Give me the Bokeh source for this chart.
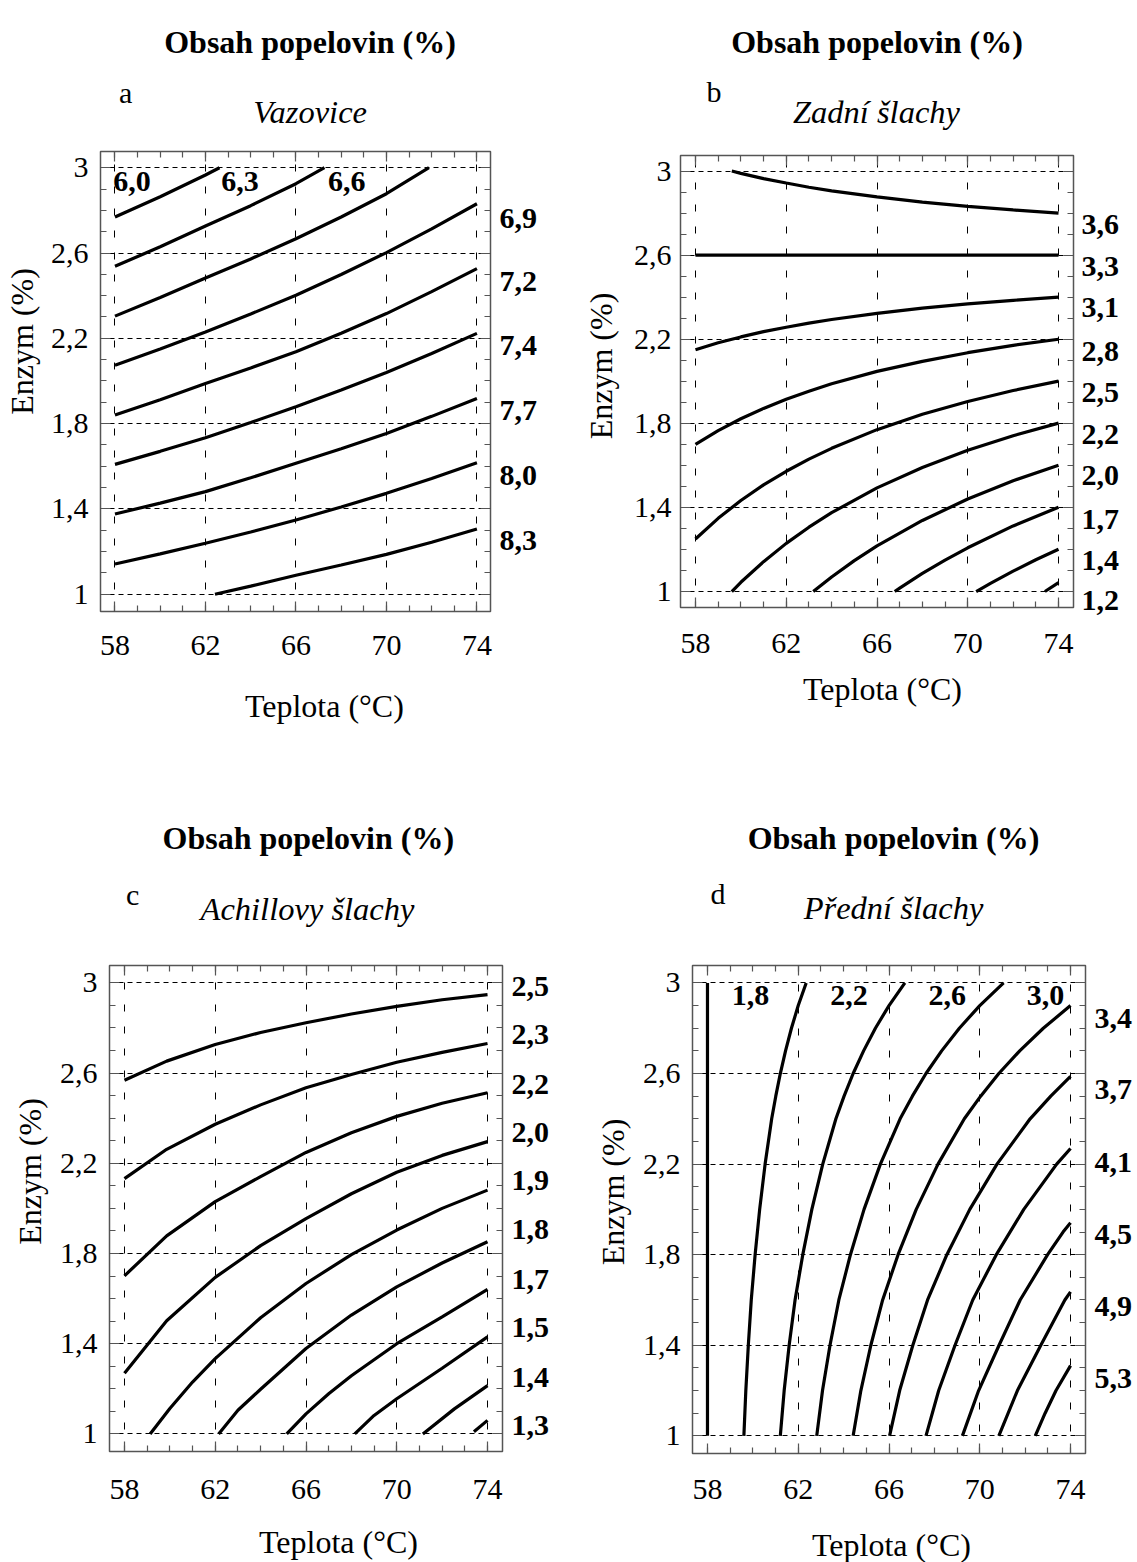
import math
from bokeh.plotting import figure
from bokeh.models import Range1d, FixedTicker, LinearAxis, CustomJSTickFormatter, ColumnDataSource
from bokeh.core.properties import value
from bokeh.layouts import column, row
from bokeh.embed import file_html
from bokeh.resources import INLINE

SERIF = "Liberation Serif"
FRAME = "#555555"

# ---------------- data ----------------
title_text = "Obsah popelovin (%)"
x_label = "Teplota (°C)"
y_label = "Enzym (%)"
x_ticks = [58, 62, 66, 70, 74]
x_tick_labels = ["58", "62", "66", "70", "74"]
y_ticks = [1.0, 1.4, 1.8, 2.2, 2.6, 3.0]
y_tick_labels = ["1", "1,4", "1,8", "2,2", "2,6", "3"]

# panel a - Vazovice
a_curves_x = [
    [58, 60, 62, 62.62],
    [58, 60, 62, 64, 66, 67.26],
    [58, 60, 62, 64, 66, 68, 70, 71.88],
    [58, 60, 62, 64, 66, 68, 70, 72, 74],
    [58, 60, 62, 64, 66, 68, 70, 72, 74],
    [58, 60, 62, 64, 66, 68, 70, 72, 74],
    [58, 60, 62, 64, 66, 68, 70, 72, 74],
    [58, 60, 62, 64, 66, 68, 70, 72, 74],
    [62.42, 64, 66, 68, 70, 72, 74],
]
a_curves_y = [
    [2.769, 2.864, 2.966, 3.0],
    [2.538, 2.629, 2.727, 2.822, 2.925, 3.0],
    [2.304, 2.391, 2.483, 2.572, 2.667, 2.769, 2.878, 3.0],
    [2.074, 2.150, 2.230, 2.314, 2.402, 2.499, 2.602, 2.713, 2.831],
    [1.840, 1.912, 1.988, 2.061, 2.137, 2.224, 2.316, 2.419, 2.527],
    [1.609, 1.670, 1.734, 1.805, 1.879, 1.958, 2.040, 2.129, 2.223],
    [1.376, 1.427, 1.481, 1.546, 1.614, 1.682, 1.754, 1.834, 1.918],
    [1.142, 1.189, 1.239, 1.292, 1.348, 1.409, 1.473, 1.543, 1.617],
    [1.0, 1.038, 1.089, 1.137, 1.187, 1.244, 1.306],
]
a_top_labels = ["6,0", "6,3", "6,6"]
a_right_labels = ["6,9", "7,2", "7,4", "7,7", "8,0", "8,3"]
a_right_pos = [2.761, 2.465, 2.168, 1.863, 1.559, 1.254]

# panel b - Zadní šlachy
bx_full = [58, 59, 60, 61, 62, 63, 64, 66, 68, 70, 72, 74]
b_curves_x = [
    [59.6, 60, 61, 62, 63, 64, 66, 68, 70, 72, 74],
    [58, 74],
    bx_full,
    bx_full,
    bx_full,
    [59.6, 60, 61, 62, 63, 64, 66, 68, 70, 72, 74],
    [63.19, 64, 65, 66, 68, 70, 72, 74],
    [66.78, 67, 68, 69, 70, 72, 74],
    [70.37, 71, 72, 73, 74],
    [73.4, 74],
]
b_curves_y = [
    [3.0, 2.989, 2.964, 2.943, 2.923, 2.906, 2.877, 2.852, 2.832, 2.815, 2.800],
    [2.6, 2.6],
    [2.150, 2.183, 2.211, 2.236, 2.257, 2.277, 2.294, 2.323, 2.348, 2.368, 2.385, 2.400],
    [1.700, 1.765, 1.822, 1.871, 1.915, 1.953, 1.988, 2.047, 2.095, 2.136, 2.171, 2.200],
    [1.250, 1.348, 1.433, 1.507, 1.572, 1.630, 1.681, 1.770, 1.843, 1.904, 1.956, 2.001],
    [1.0, 1.044, 1.142, 1.229, 1.306, 1.375, 1.493, 1.590, 1.672, 1.741, 1.801],
    [1.0, 1.069, 1.147, 1.217, 1.338, 1.440, 1.527, 1.601],
    [1.0, 1.016, 1.086, 1.149, 1.208, 1.312, 1.401],
    [1.0, 1.039, 1.097, 1.151, 1.201],
    [1.0, 1.042],
]
b_right_labels = ["3,6", "3,3", "3,1", "2,8", "2,5", "2,2", "2,0", "1,7", "1,4", "1,2"]
b_right_pos = [2.746, 2.548, 2.350, 2.144, 1.946, 1.748, 1.550, 1.344, 1.146, 0.956]

# panel c - Achillovy šlachy
c_curves_x = [
    [58, 59.86, 62, 64, 66, 68, 70, 72, 74],
    [58, 59.86, 62, 64, 66, 68, 70, 72, 74],
    [58, 59.86, 62, 64, 66, 68, 70, 72, 74],
    [58, 59.86, 62, 64, 66, 68, 70, 72, 74],
    [59.13, 60, 61, 62, 64, 66, 68, 70, 72, 74],
    [62.15, 63, 64, 66, 68, 70, 72, 74],
    [65.15, 66, 67, 68, 70, 72, 74],
    [68.15, 69, 70, 72, 74],
    [71.15, 72.54, 74],
    [73.4, 74],
]
c_curves_y = [
    [2.568, 2.653, 2.727, 2.780, 2.823, 2.862, 2.896, 2.925, 2.948],
    [2.132, 2.262, 2.373, 2.459, 2.535, 2.594, 2.648, 2.692, 2.731],
    [1.701, 1.878, 2.030, 2.141, 2.248, 2.335, 2.408, 2.466, 2.513],
    [1.269, 1.502, 1.694, 1.835, 1.955, 2.065, 2.160, 2.235, 2.296],
    [1.0, 1.113, 1.230, 1.334, 1.515, 1.667, 1.795, 1.904, 2.0, 2.081],
    [1.0, 1.105, 1.198, 1.379, 1.527, 1.652, 1.758, 1.852],
    [1.0, 1.089, 1.178, 1.258, 1.400, 1.519, 1.641],
    [1.0, 1.082, 1.156, 1.291, 1.430],
    [1.0, 1.111, 1.214],
    [1.01, 1.06],
]
c_right_labels = ["2,5", "2,3", "2,2", "2,0", "1,9", "1,8", "1,7", "1,5", "1,4", "1,3"]
c_right_pos = [2.985, 2.771, 2.550, 2.336, 2.122, 1.907, 1.686, 1.472, 1.251, 1.037]

# panel d - Přední šlachy
dy_full = [1.0, 1.2, 1.4, 1.6, 1.8, 2.0, 2.2, 2.4, 2.5, 2.6, 2.7, 2.8, 2.9, 3.0]
d_curves_x = [
    [58, 58],
    [59.605, 59.69, 59.80, 59.93, 60.10, 60.30, 60.54, 60.83, 61.01, 61.21, 61.44, 61.70, 62.00, 62.35],
    [61.21, 61.38, 61.60, 61.86, 62.20, 62.60, 63.08, 63.66, 64.02, 64.42, 64.88, 65.40, 66.00, 66.70],
    [62.815, 63.07, 63.40, 63.79, 64.30, 64.90, 65.62, 66.49, 67.03, 67.63, 68.32, 69.10, 70.00, 71.05],
    [64.42, 64.76, 65.20, 65.72, 66.40, 67.20, 68.16, 69.32, 70.04, 70.84, 71.76, 72.80, 74.0],
    [66.025, 66.47, 67.05, 67.70, 68.55, 69.56, 70.76, 72.22, 73.13, 74.0],
    [67.63, 68.19, 68.91, 69.69, 70.73, 71.94, 73.39, 74.0],
    [69.235, 69.95, 70.85, 71.78, 72.99, 73.67, 74.0],
    [70.84, 71.66, 72.69, 73.75, 74.0],
    [72.445, 72.88, 73.36, 74.0],
]
d_curves_y = [
    [1.0, 3.0],
    dy_full,
    dy_full,
    dy_full,
    [1.0, 1.2, 1.4, 1.6, 1.8, 2.0, 2.2, 2.4, 2.5, 2.6, 2.7, 2.8, 2.9],
    [1.0, 1.2, 1.4, 1.6, 1.8, 2.0, 2.2, 2.4, 2.5, 2.587],
    [1.0, 1.2, 1.4, 1.6, 1.8, 2.0, 2.2, 2.269],
    [1.0, 1.2, 1.4, 1.6, 1.8, 1.9, 1.941],
    [1.0, 1.2, 1.4, 1.6, 1.636],
    [1.0, 1.1, 1.2, 1.31],
]
d_top_labels = ["1,8", "2,2", "2,6", "3,0"]
d_right_labels = ["3,4", "3,7", "4,1", "4,5", "4,9", "5,3"]
d_right_pos = [2.841, 2.528, 2.208, 1.888, 1.571, 1.255]

# ---------------- layout (page pixels) ----------------
XR = (57.34, 74.66)
YR = (0.922, 3.077)
minor_x = [58 + i for i in range(17)]
minor_y = [round(1.0 + 0.1 * i, 2) for i in range(21)]
HEADER_H = 130
MAIN_BOTTOM = 60


def px2data(g, px, py):
    x0, x1 = g["xr"]
    y0, y1 = g["yr"]
    return (x0 + (px - g["fl"]) / g["fw"] * (x1 - x0),
            y1 - (py - g["ft"]) / g["fh"] * (y1 - y0))


def frame_axis(ax, major, minor):
    ax.ticker = FixedTicker(ticks=major, minor_ticks=minor)
    ax.axis_line_color = None
    ax.major_tick_in = 10
    ax.major_tick_out = 0
    ax.minor_tick_in = 6
    ax.minor_tick_out = 0
    ax.major_tick_line_color = FRAME
    ax.minor_tick_line_color = FRAME
    ax.major_tick_line_width = 1.2
    ax.minor_tick_line_width = 1.2


def text_fig(g, H, oy, items):
    # frames in a column are aligned with the main plot frame, so use page x coords
    f = figure(width=g["W"], height=H, x_range=Range1d(g["fl"], g["fl"] + g["fw"]),
               y_range=Range1d(H, 0),
               output_backend="svg", toolbar_location=None, min_border=0,
               x_axis_location=None, y_axis_location=None)
    f.grid.visible = False
    f.outline_line_color = None
    f.background_fill_color = "white"
    f.border_fill_color = "white"
    for (px, py, txt, size, style, align) in items:
        f.text(x=[px], y=[py - oy], text=[txt], text_font=value(SERIF),
               text_font_size=f"{size}px", text_font_style=style, text_align=align,
               text_baseline="alphabetic", text_color="black")
    return f


def make_panel(g, curves_x, curves_y, letter, subtitle, right_labels, right_pos,
               top_labels=None, top_px=None, top_py=None):
    W, H = g["W"], g["H"]
    main_top = g["oy"] + HEADER_H
    mt = g["ft"] - main_top
    ml = g["fl"] - g["ox"]
    main_h = mt + g["fh"] + MAIN_BOTTOM
    footer_h = H - HEADER_H - main_h

    p = figure(width=W, height=main_h, x_range=Range1d(*g["xr"]), y_range=Range1d(*g["yr"]),
               output_backend="svg", toolbar_location=None,
               min_border_left=ml, min_border_top=mt,
               min_border_right=W - ml - g["fw"], min_border_bottom=MAIN_BOTTOM)
    p.background_fill_color = "white"
    p.border_fill_color = "white"
    p.outline_line_color = FRAME
    p.outline_line_width = 1.5

    # grid
    p.xgrid.ticker = FixedTicker(ticks=x_ticks)
    p.ygrid.ticker = FixedTicker(ticks=y_ticks)
    p.xgrid.grid_line_color = "black"
    p.ygrid.grid_line_color = "black"
    p.xgrid.grid_line_width = 1
    p.ygrid.grid_line_width = 1
    p.xgrid.grid_line_dash = "7 15"
    p.ygrid.grid_line_dash = "5 4"

    # bottom axis
    xa = p.xaxis[0]
    frame_axis(xa, x_ticks, minor_x)
    xa.major_label_overrides = dict(zip(x_ticks, x_tick_labels))
    xa.major_label_text_font = SERIF
    xa.major_label_text_font_size = "30px"
    xa.major_label_text_color = "black"
    xa.major_label_standoff = g["xstand"]

    # left axis
    ya = p.yaxis[0]
    frame_axis(ya, y_ticks, minor_y)
    ya.major_label_overrides = dict(zip(y_ticks, y_tick_labels))
    ya.major_label_text_font = SERIF
    ya.major_label_text_font_size = "30px"
    ya.major_label_text_color = "black"
    ya.major_label_standoff = g["ystand"]

    # y axis title, placed at its own height on an outer left axis
    _, ylab_y = px2data(g, g["fl"], g["ylab"])
    yl = LinearAxis(ticker=FixedTicker(ticks=[ylab_y], minor_ticks=[]),
                    major_label_overrides={ylab_y: y_label})
    yl.axis_line_color = None
    yl.major_tick_line_color = None
    yl.minor_tick_line_color = None
    yl.major_tick_in = 0
    yl.major_tick_out = 0
    yl.major_label_orientation = "vertical"
    yl.major_label_standoff = g["ylabstand"]
    yl.major_label_text_font = SERIF
    yl.major_label_text_font_size = "32px"
    yl.major_label_text_color = "black"
    p.add_layout(yl, "left")

    blank = CustomJSTickFormatter(code="return ''")
    top = LinearAxis(formatter=blank, major_label_standoff=0)
    frame_axis(top, x_ticks, minor_x)
    p.add_layout(top, "above")
    rt = LinearAxis(formatter=blank, major_label_standoff=0)
    frame_axis(rt, y_ticks, minor_y)
    p.add_layout(rt, "right")

    # contour value labels on the right
    rl = LinearAxis(ticker=FixedTicker(ticks=right_pos, minor_ticks=[]),
                    major_label_overrides=dict(zip(right_pos, right_labels)))
    rl.axis_line_color = None
    rl.major_tick_line_color = None
    rl.minor_tick_line_color = None
    rl.major_tick_in = 0
    rl.major_tick_out = 0
    rl.major_label_standoff = g["rstand"]
    rl.major_label_text_font = SERIF
    rl.major_label_text_font_style = "bold"
    rl.major_label_text_font_size = "30px"
    rl.major_label_text_color = "black"
    p.add_layout(rl, "right")

    # contour lines
    for cx, cy in zip(curves_x, curves_y):
        p.line(cx, cy, line_color="black", line_width=3.2)

    # contour labels inside the frame (top)
    if top_labels:
        tx, ty = [], []
        for px in top_px:
            x, y = px2data(g, px, top_py)
            tx.append(x)
            ty.append(y)
        src = ColumnDataSource(dict(x=tx, y=ty, t=top_labels))
        p.text(x="x", y="y", text="t", source=src, text_font=value(SERIF),
               text_font_style="bold", text_font_size="30px", text_align="left",
               text_baseline="middle", text_color="black")

    header = text_fig(g, HEADER_H, g["oy"], [
        (g["title"][0], g["title"][1], title_text, 32, "bold", "center"),
        (g["letter"][0], g["letter"][1], letter, 30, "normal", "left"),
        (g["sub"][0], g["sub"][1], subtitle, 32.5, "italic", "center"),
    ])
    footer = text_fig(g, footer_h, main_top + main_h, [
        (g["xlab"][0], g["xlab"][1], x_label, 32, "normal", "center"),
    ])
    return column(header, p, footer)


GA = dict(ox=0, oy=0, W=560, H=808, fl=98, ft=151, fw=392, fh=460, xr=(57.36, 74.6), yr=(0.919, 3.076),
          xstand=24, ystand=12, rstand=9, ylabstand=8, ylab=341,
          title=(308.6, 41.7), letter=(116.7, 91.7), sub=(308.7, 111), xlab=(323, 705))
GB = dict(ox=560, oy=0, W=577, H=808, fl=680, ft=155, fw=393, fh=452, xr=XR, yr=(0.924, 3.074),
          xstand=26, ystand=9, rstand=8, ylabstand=12, ylab=365.5,
          title=(876.5, 41.7), letter=(706, 90.7), sub=(876, 111), xlab=(882, 688))
GC = dict(ox=0, oy=808, W=560, H=754, fl=109, ft=965, fw=393, fh=486, xr=XR, yr=YR,
          xstand=28, ystand=12, rstand=9, ylabstand=9, ylab=1171,
          title=(307.8, 837), letter=(125.6, 894), sub=(307, 908.3), xlab=(338, 1541.7))
GD = dict(ox=560, oy=808, W=577, H=754, fl=692, ft=965, fw=393, fh=488, xr=XR, yr=YR,
          xstand=26, ystand=12, rstand=9, ylabstand=9, ylab=1191.5,
          title=(893, 837), letter=(710, 893), sub=(893, 907), xlab=(891, 1544))

pa = make_panel(GA, a_curves_x, a_curves_y, "a", "Vazovice", a_right_labels, a_right_pos,
                a_top_labels, [110.7, 219.3, 326.7], 181.3)
pb = make_panel(GB, b_curves_x, b_curves_y, "b", "Zadní šlachy", b_right_labels, b_right_pos)
pc = make_panel(GC, c_curves_x, c_curves_y, "c", "Achillovy šlachy", c_right_labels, c_right_pos)
pd = make_panel(GD, d_curves_x, d_curves_y, "d", "Přední šlachy", d_right_labels, d_right_pos,
                d_top_labels, [731.3, 829.7, 928, 1026.3], 994.5)

layout = column(row(pa, pb), row(pc, pd))
open("out.html", "w").write(file_html(layout, INLINE))
